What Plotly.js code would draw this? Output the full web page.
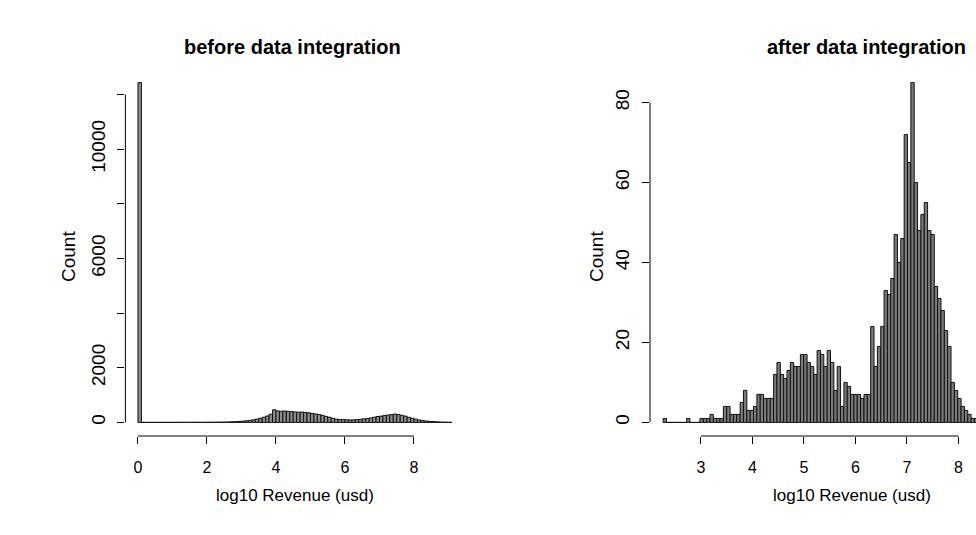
<!DOCTYPE html>
<html>
<head>
<meta charset="utf-8">
<script src="https://cdn.plot.ly/plotly-3.0.1.min.js"></script>
<style>html,body{margin:0;padding:0;background:#fff;}#chart{width:976px;height:535px;}</style>
</head>
<body>
<div id="chart"></div>
<script>
// ---- Data ----
// Left panel: histogram before data integration, bins of width 0.1 starting at 0
const leftBinStart = 0;
const leftBinWidth = 0.1;
const leftCounts = [
  12440, 2, 1, 2, 1, 2, 3, 2, 3, 2, 3, 2, 4, 3, 4, 3, 4, 5, 4, 5,
  5, 6, 8, 10, 12, 15, 18, 22, 28, 35,
  45, 60, 75, 95, 120, 150, 190, 235, 300, 460,
  420, 410, 415, 405, 395, 385, 375, 380, 365, 350,
  330, 310, 290, 260, 220, 190, 150, 120, 105, 100,
  95, 90, 92, 100, 115, 130, 145, 165, 190, 215,
  230, 250, 270, 285, 305, 290, 260, 230, 185, 150,
  120, 90, 70, 50, 40, 30, 22, 16, 11, 7,
  4
];
// Right panel: histogram after data integration
const rightBinStart = 2.265;
const rightBinWidth = 0.065;
const rightCounts = [
  1, 0, 0, 0, 0, 0, 0, 1, 0, 0,
  0, 1, 1, 1, 2, 1, 1, 1, 4, 4,
  2, 2, 2, 5, 8, 3, 3, 4, 7, 7,
  6, 6, 6, 12, 15, 12, 11, 13, 15, 14,
  14, 17, 17, 15, 14, 12, 18, 17, 14, 18,
  15, 8, 14, 4, 10, 9, 7, 7, 7, 6,
  7, 7, 24, 14, 19, 24, 33, 32, 36, 47,
  40, 46, 72, 65, 85, 60, 48, 52, 55, 48,
  47, 34, 31, 28, 23, 19, 10, 8, 6, 4,
  3, 2, 1, 1
];
const leftXTicks = [0, 2, 4, 6, 8];
const leftYTicks = [0, 2000, 4000, 6000, 8000, 10000, 12000];
const leftYTickText = ['0', '2000', '', '6000', '', '10000', ''];
const rightXTicks = [3, 4, 5, 6, 7, 8];
const rightYTicks = [0, 20, 40, 60, 80];
const titles = ['before data integration', 'after data integration'];
const xTitle = 'log10 Revenue (usd)';
const yTitle = 'Count';

// ---- Build ----
const W = 976, H = 535;
const px = v => v / W;
const py = v => (H - v) / H;
function centers(start, w, n) { const a = []; for (let i = 0; i < n; i++) a.push(start + (i + 0.5) * w); return a; }

const FONT = 'Liberation Sans, Arial, Helvetica, sans-serif';

const traces = [
  {type: 'bar', x: centers(leftBinStart, leftBinWidth, leftCounts.length), y: leftCounts,
   width: leftCounts.map(() => leftBinWidth), marker: {color: '#8c8c8c', line: {color: '#111', width: 1}},
   xaxis: 'x', yaxis: 'y', hoverinfo: 'x+y'},
  {type: 'bar', x: centers(rightBinStart, rightBinWidth, rightCounts.length), y: rightCounts,
   width: rightCounts.map(() => rightBinWidth), marker: {color: '#7a7a7a', line: {color: '#111', width: 1}},
   xaxis: 'x2', yaxis: 'y2', hoverinfo: 'x+y'}
];

const yDom = [py(436), py(69)];
const lDom = [px(125.4), px(464.5)];
const rDom = [px(650), 1];
const axX = {showgrid: false, zeroline: false, showline: false, ticks: 'outside', ticklen: 7,
  tickcolor: '#000', tickwidth: 1, tickfont: {family: FONT, size: 16, color: '#000'}, fixedrange: true, ticklabelstandoff: 10};
const axY = Object.assign({}, axX, {tickfont: {family: FONT, size: 19, color: '#000'}, tickangle: -90, ticklabelstandoff: 5});

function ann(text, x, y, size, angle) {
  return {text: text, xref: 'paper', yref: 'paper', x: px(x), y: py(y), xanchor: 'center', yanchor: 'middle',
    textangle: angle || 0, showarrow: false, font: {family: FONT, size: size, color: '#000'}};
}

const layout = {
  width: W, height: H, margin: {l: 0, r: 0, t: 0, b: 0},
  paper_bgcolor: '#fff', plot_bgcolor: '#fff', showlegend: false,
  barmode: 'overlay', bargap: 0,
  xaxis: Object.assign({}, axX, {domain: lDom, range: [-0.364, 9.464], tickvals: leftXTicks, anchor: 'y'}),
  yaxis: Object.assign({}, axY, {domain: yDom, range: [-497.6, 12937.6], tickvals: leftYTicks, ticktext: leftYTickText, anchor: 'x'}),
  xaxis2: Object.assign({}, axX, {domain: rDom, range: [2.01, 8.34], tickvals: rightXTicks, anchor: 'y2'}),
  yaxis2: Object.assign({}, axY, {domain: yDom, range: [-3.4, 88.4], tickvals: rightYTicks, anchor: 'x2'}),
  shapes: [
    {type: 'line', xref: 'x', yref: 'paper', x0: leftXTicks[0], x1: leftXTicks[leftXTicks.length - 1], y0: yDom[0], y1: yDom[0], line: {color: '#000', width: 1}},
    {type: 'line', xref: 'paper', yref: 'y', x0: lDom[0], x1: lDom[0], y0: leftYTicks[0], y1: leftYTicks[leftYTicks.length - 1], line: {color: '#000', width: 1}},
    {type: 'line', xref: 'x2', yref: 'paper', x0: rightXTicks[0], x1: rightXTicks[rightXTicks.length - 1], y0: yDom[0], y1: yDom[0], line: {color: '#000', width: 1}},
    {type: 'line', xref: 'paper', yref: 'y2', x0: rDom[0], x1: rDom[0], y0: rightYTicks[0], y1: rightYTicks[rightYTicks.length - 1], line: {color: '#000', width: 1}}
  ],
  annotations: [
    ann('<b>' + titles[0] + '</b>', 292, 47, 20),
    ann('<b>' + titles[1] + '</b>', 866, 47, 20),
    ann(xTitle, 295, 495, 17),
    ann(xTitle, 852, 495, 17),
    ann(yTitle, 68, 257, 19, -90),
    ann(yTitle, 596, 257, 19, -90)
  ]
};

Plotly.newPlot('chart', traces, layout, {displayModeBar: false, staticPlot: true});
</script>
</body>
</html>
